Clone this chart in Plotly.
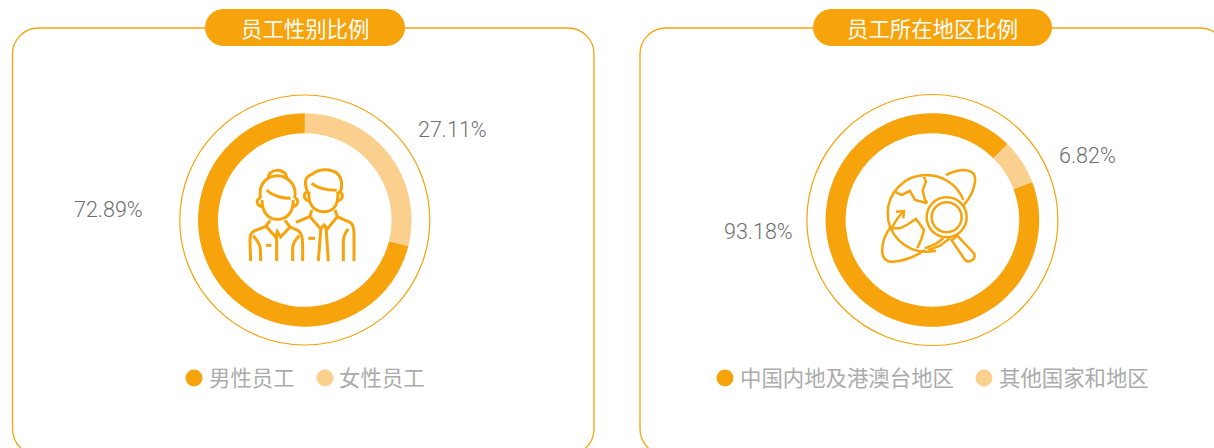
import re
import plotly.graph_objects as go

W, H = 1214, 448
ORANGE, LIGHT = "#F6A30C", "#FBD08E"

# Chart content
panel_titles = ["员工性别比例", "员工所在地区比例"]
gender_categories = ["男性员工", "女性员工"]
gender_labels = ["72.89%", "27.11%"]
# Shares as the arcs are actually drawn in the picture (its light arc spans about 104 degrees)
gender_arc_shares = [71.1, 28.9]
region_categories = ["中国内地及港澳台地区", "其他国家和地区"]
region_labels = ["93.18%", "6.82%"]
region_arc_shares = [93.18, 6.82]

FONT_CJK = "Noto Sans CJK SC, Noto Sans, sans-serif"
FONT_NUM = "Roboto Light, Roboto, sans-serif"


def xf(path, ox, oy):
    """Icon paths are sketched in 3x crop coordinates; convert to page pixels."""
    def rep(m):
        return f"{float(m.group(1))/3+ox:.2f} {float(m.group(2))/3+oy:.2f}"
    return re.sub(r"(-?[\d.]+) (-?[\d.]+)", rep, path)


def rounded(x0, y0, x1, y1, r):
    k = r * 0.448
    return (f"M {x0+r} {y0} L {x1-r} {y0} C {x1-k} {y0} {x1} {y0+k} {x1} {y0+r} L {x1} {y1-r} "
            f"C {x1} {y1-k} {x1-k} {y1} {x1-r} {y1} L {x0+r} {y1} C {x0+k} {y1} {x0} {y1-k} {x0} {y1-r} "
            f"L {x0} {y0+r} C {x0} {y0+k} {x0+k} {y0} {x0+r} {y0} Z")


def circle(cx, cy, r, fill="rgba(0,0,0,0)", lw=1.2, line=ORANGE):
    return dict(type="circle", xref="x", yref="y", x0=cx-r, x1=cx+r, y0=cy-r, y1=cy+r,
                fillcolor=fill, line=dict(color=line, width=lw))


def path(d, fill="rgba(0,0,0,0)", lw=3.0, line=ORANGE):
    return dict(type="path", xref="x", yref="y", path=d, fillcolor=fill,
                line=dict(color=line, width=lw))


people = [
    "M 296 282 C 288 250 352 245 350 282",
    "M 272 340 C 262 295 295 272 322 272 C 352 272 382 298 374 340",
    "M 276 345 C 276 385 298 403 322 403 C 348 403 370 385 370 345",
    "M 272 340 C 256 340 258 364 279 365",
    "M 374 340 C 388 340 386 364 366 365",
    "M 290 315 C 308 333 340 341 362 340",
    "M 300 406 L 288 424 L 317 456 L 322 440 L 332 456 L 360 426 L 345 406",
    "M 288 424 L 255 437 C 240 443 240 456 240 470 L 242 528",
    "M 272 528 L 271 490 C 270 476 260 464 250 452",
    "M 320 445 L 320 528",
    "M 360 426 L 385 437 C 400 448 398 470 398 528",
    "M 368 528 L 368 490 C 368 476 376 464 388 452",
    "M 288 481 L 304 481",
    "M 412 320 C 400 285 408 274 426 268 C 445 250 482 250 500 264 C 520 280 516 310 510 325",
    "M 425 295 C 440 307 470 316 500 316",
    "M 417 320 C 414 345 422 380 462 380 C 500 380 506 345 503 320",
    "M 415 322 C 398 320 398 346 420 348",
    "M 505 322 C 522 320 522 346 500 348",
    "M 425 375 L 420 395 L 452 432 L 462 420 L 472 432 L 502 395 L 495 375",
    "M 378 412 L 420 394",
    "M 502 395 L 540 412 C 555 420 552 440 552 528",
    "M 520 528 L 520 470 C 520 455 526 442 535 432",
    "M 453 425 L 445 528",
    "M 468 425 L 475 528",
    "M 415 460 L 435 460",
]

globe_lines = [
    "M 490 345 C 470 295 425 270 378 270 C 315 270 263 322 263 385 C 263 448 315 500 378 500 C 388 500 398 499 408 497",
    "M 438 270 C 480 250 530 245 525 290 C 522 320 505 345 490 362",
    "M 272 425 C 240 470 235 530 275 530 C 310 530 350 512 375 495",
    "M 275 430 C 285 410 295 395 310 380",
    "M 288 380 L 312 378 L 310 400",
    "M 285 320 L 305 330 L 330 318 L 345 345 L 382 355",
    "M 372 275 L 378 290 L 368 315 L 375 345 L 382 353",
    "M 278 430 L 300 430 L 320 420 L 348 402 L 372 435 L 365 460 L 352 490",
    "M 375 490 L 410 475 L 430 460",
    "M 385 495 L 420 482 L 450 460",
]

C1, C2, CY, R_OUT, R_IN, R_THIN = 304.8, 932.4, 220, 106.8, 86.8, 125

shapes = [
    path(rounded(12.5, 28, 594, 455, 26), lw=1.3),
    path(rounded(640, 28, 1226, 455, 26), lw=1.3),
    path(rounded(205, 9, 405, 46, 18.5), fill=ORANGE, lw=0),
    path(rounded(813, 9, 1052, 46, 18.5), fill=ORANGE, lw=0),
    circle(C1, CY, R_THIN),
    circle(C2, CY, R_THIN + 0.5),
]
shapes += [path(xf(d, 170, 85)) for d in people]
shapes += [path(xf(d, 800, 85), lw=2.5) for d in globe_lines]
shapes += [
    path(xf("M 472 452 L 455 466 L 495 525 C 505 535 530 525 522 505 Z", 800, 85), fill="white", lw=2.5),
    circle(800 + 440/3, 85 + 397/3, 20, fill="white", lw=2.5),
    circle(800 + 440/3, 85 + 397/3, 15, lw=2.5),
]


def pie(shares, cats, cx, rotation):
    return go.Pie(
        values=shares, labels=cats, sort=False, direction="clockwise", rotation=rotation,
        hole=R_IN / R_OUT, textinfo="none", showlegend=False,
        marker=dict(colors=[ORANGE, LIGHT], line=dict(width=0)),
        domain=dict(x=[(cx - R_OUT) / W, (cx + R_OUT) / W],
                    y=[(H - CY - R_OUT) / H, (H - CY + R_OUT) / H]),
    )


fig = go.Figure()
fig.add_trace(pie(gender_arc_shares, gender_categories, C1, 104.1))
fig.add_trace(pie(region_arc_shares, region_categories, C2, 69.2))

# Legend dots (also anchors the hidden pixel axes)
fig.add_trace(go.Scatter(
    x=[194, 325, 725, 984], y=[378] * 4, mode="markers", showlegend=False, hoverinfo="skip",
    marker=dict(size=17, color=[ORANGE, LIGHT, ORANGE, LIGHT], line=dict(width=0)),
))


def text(x, y, s, size, color, family, anchor="left"):
    return dict(x=x, y=y, xref="x", yref="y", text=s, showarrow=False, xanchor=anchor, yanchor="middle",
                font=dict(size=size, color=color, family=family))


annotations = [
    text(304.5, 27.5, panel_titles[0], 21.4, "white", FONT_CJK, "center"),
    text(932, 27.5, panel_titles[1], 21.4, "white", FONT_CJK, "center"),
    text(207, 376.5, gender_categories[0], 21.4, "#ABABAB", FONT_CJK),
    text(337, 376.5, gender_categories[1], 21.4, "#ABABAB", FONT_CJK),
    text(738, 376.5, region_categories[0], 21.4, "#ABABAB", FONT_CJK),
    text(996.5, 376.5, region_categories[1], 21.4, "#ABABAB", FONT_CJK),
    text(108, 209.5, gender_labels[0], 21.5, "#6E6E6E", FONT_NUM, "center"),
    text(452.5, 129.5, gender_labels[1], 21.5, "#6E6E6E", FONT_NUM, "center"),
    text(758, 231.5, region_labels[0], 21.5, "#6E6E6E", FONT_NUM, "center"),
    text(1087.5, 155.5, region_labels[1], 21.5, "#6E6E6E", FONT_NUM, "center"),
]

fig.update_layout(
    width=W, height=H, margin=dict(l=0, r=0, t=0, b=0),
    paper_bgcolor="white", plot_bgcolor="white",
    xaxis=dict(range=[0, W], visible=False, fixedrange=True),
    yaxis=dict(range=[H, 0], visible=False, fixedrange=True),
    shapes=shapes, annotations=annotations,
)
fig.write_html("out.html", config=dict(displayModeBar=False),
               post_script="document.body.style.margin='0';document.body.style.overflow='hidden';")
